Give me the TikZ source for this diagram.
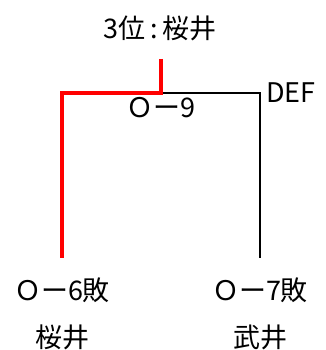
\documentclass[tikz,border=0pt]{standalone}
\usepackage{fontspec}
\setmainfont{Noto Sans CJK JP}
\newcommand\gp{\hspace{5pt}}

\tikzset{every picture/.style={line width=0.75pt}}
\tikzset{lbl/.style={inner sep=0.75pt, font=\fontsize{27}{30}\selectfont}}

\begin{document}
\begin{tikzpicture}[x=1pt,y=1pt,yscale=-1,xscale=1]
\path[use as bounding box] (0,0) rectangle (325,350);

%Coordinates of the bracket
\coordinate (top) at (161,59);
\coordinate (mid) at (161,93);
\coordinate (lcorner) at (62,93);
\coordinate (lbot) at (62,258);
\coordinate (rcorner) at (260,93);
\coordinate (rbot) at (260,258);

%Straight Lines
\draw [line width=2pt] (mid) -- (rcorner) -- (rbot) ;
%Straight Lines
\draw [color={rgb, 255:red, 255; green, 0; blue, 0 }, line width=4.5pt] (top) -- (mid) -- (lcorner) -- (lbot) ;

% Text Node
\node [lbl] (title) at (160,28) {3位\gp{}:\gp{}桜井};
% Text Node
\node [lbl] (score9) at (161,108) {Ｏー9};
% Text Node
\node [lbl, anchor=west] (def) at (265,93) {DEF};
% Text Node
\node [lbl] (lscore) at (62,290) {Ｏー6敗};
% Text Node
\node [lbl] (rscore) at (260,290) {Ｏー7敗};
% Text Node
\node [lbl] (lname) at (62,337) {桜井};
% Text Node
\node [lbl] (rname) at (260,337) {武井};

\end{tikzpicture}
\end{document}
